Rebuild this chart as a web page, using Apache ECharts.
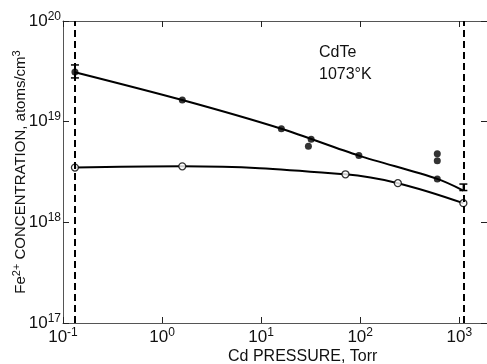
<!DOCTYPE html>
<html><head><meta charset="utf-8">
<script src="https://cdn.jsdelivr.net/npm/echarts@6/dist/echarts.min.js"></script>
<style>html,body{margin:0;padding:0;background:#fff}#c{width:487px;height:364px}</style>
</head><body><div id="c"></div>
<script>
// Filled points (measured Fe2+ concentration)
const filledX = [0.132, 1.6, 16, 32, 30, 97, 600, 600, 600];
const filledY = [3.12e19, 1.64e19, 8.5e18, 6.7e18, 5.7e18, 4.6e18, 4.8e18, 4.1e18, 2.7e18];
// Open points
const openX = [0.132, 1.6, 71, 240, 1100];
const openY = [3.5e18, 3.6e18, 3.0e18, 2.45e18, 1.55e18];
// Fitted upper curve
const topFitX = [0.132, 1.6, 16, 97, 600, 1100];
const topFitY = [3.1e19, 1.64e19, 8.5e18, 4.6e18, 2.7e18, 2.07e18];
// Fitted lower curve (through open points)
const lowFitX = [0.132, 1.6, 71, 240, 1100];
const lowFitY = [3.5e18, 3.6e18, 3.0e18, 2.45e18, 1.55e18];
// Error bars
const errX = [0.132, 1100];
const errLo = [2.72e19, 2.07e18];
const errHi = [3.66e19, 2.4e18];
// Phase-limit (dashed) pressures
const limitX = [0.132, 1100];

const zip = (a, b) => a.map((v, i) => [v, b[i]]);
const supFmt = v => {
  const l = Math.log10(v), e = Math.round(l);
  if (Math.abs(l - e) > 1e-6) return '';
  return '{b|10}{s|' + e + '}';
};
const FONT = "'Liberation Sans Narrow', 'Liberation Sans', sans-serif";
const rich = {
  b: {fontSize: 17, fontFamily: FONT, color: '#111'},
  s: {fontSize: 12, fontFamily: FONT, color: '#111', padding: [0, 0, 9, 0]}
};

const chart = echarts.init(document.getElementById('c'));
chart.setOption({
  animation: false,
  grid: {left: 63, right: 0, top: 21, bottom: 41, containLabel: false, outerBoundsMode: 'none'},
  xAxis: [{
    type: 'log', logBase: 10, min: 0.1, max: Math.pow(10, 3.28),
    axisLine: {show: true, lineStyle: {color: '#555', width: 1}},
    axisTick: {inside: true, length: 6, lineStyle: {color: '#222'}},
    minorTick: {show: false}, splitLine: {show: false},
    axisLabel: {formatter: supFmt, rich: rich, margin: 4, showMaxLabel: false}
  }, {
    type: 'log', logBase: 10, min: 0.1, max: Math.pow(10, 3.28), position: 'top',
    axisLine: {show: true, lineStyle: {color: '#555', width: 1}},
    axisTick: {inside: true, length: 6, lineStyle: {color: '#222'}},
    splitLine: {show: false}, axisLabel: {show: false}
  }],
  yAxis: [{
    type: 'log', logBase: 10, min: 1e17, max: 1e20,
    axisLine: {show: true, lineStyle: {color: '#555', width: 1}},
    axisTick: {inside: true, length: 6, lineStyle: {color: '#222'}},
    splitLine: {show: false},
    axisLabel: {formatter: supFmt, rich: rich, margin: 2},
    name: 'Fe{s|2+} CONCENTRATION, atoms/cm{s|3}',
    nameLocation: 'middle', nameGap: 33, nameMoveOverlap: false,
    nameTextStyle: {fontSize: 15, fontFamily: FONT, color: '#111',
      rich: {s: {fontSize: 11, fontFamily: FONT, color: '#111', padding: [0, 0, 8, 0]}}}
  }, {
    type: 'log', logBase: 10, min: 1e17, max: 1e20, position: 'right',
    axisLine: {show: false},
    axisTick: {inside: true, length: 6, lineStyle: {color: '#222'}},
    splitLine: {show: false}, axisLabel: {show: false}
  }],
  graphic: [
    {type: 'text', left: 228, top: 349, style: {text: 'Cd PRESSURE, Torr', fontSize: 16, fontFamily: FONT, fill: '#111'}},
    {type: 'text', left: 319, top: 45, style: {text: 'CdTe', fontSize: 16, fontFamily: FONT, fill: '#111'}},
    {type: 'text', left: 319, top: 67, style: {text: '1073°K', fontSize: 16, fontFamily: FONT, fill: '#111'}}
  ],
  series: [
    {type: 'line', data: zip(topFitX, topFitY), smooth: 0.3, showSymbol: false,
      lineStyle: {color: '#000', width: 2}, z: 2,
      markLine: {silent: true, symbol: 'none', label: {show: false},
        lineStyle: {color: '#000', width: 2, type: [7, 4]},
        data: limitX.map(x => ({xAxis: x}))}},
    {type: 'line', data: zip(lowFitX, lowFitY), smooth: 0.4, showSymbol: false,
      lineStyle: {color: '#000', width: 2}, z: 2},
    {type: 'custom', z: 3,
      data: errX.map((x, i) => [x, errLo[i], errHi[i]]),
      renderItem: (params, api) => {
        const lo = api.coord([api.value(0), api.value(1)]);
        const hi = api.coord([api.value(0), api.value(2)]);
        const w = 4;
        return {type: 'group', children: [
          {type: 'line', shape: {x1: lo[0], y1: lo[1], x2: hi[0], y2: hi[1]}, style: {stroke: '#000', lineWidth: 1.5}},
          {type: 'line', shape: {x1: lo[0] - w, y1: lo[1], x2: lo[0] + w, y2: lo[1]}, style: {stroke: '#000', lineWidth: 1.5}},
          {type: 'line', shape: {x1: hi[0] - w, y1: hi[1], x2: hi[0] + w, y2: hi[1]}, style: {stroke: '#000', lineWidth: 1.5}}
        ]};
      }},
    {type: 'scatter', data: zip(filledX, filledY), symbol: 'circle', symbolSize: 7,
      itemStyle: {color: '#000'}, z: 4},
    {type: 'scatter', data: zip(openX, openY), symbol: 'circle', symbolSize: 7,
      itemStyle: {color: '#fff', borderColor: '#000', borderWidth: 1.3}, z: 4}
  ]
});
</script></body></html>
